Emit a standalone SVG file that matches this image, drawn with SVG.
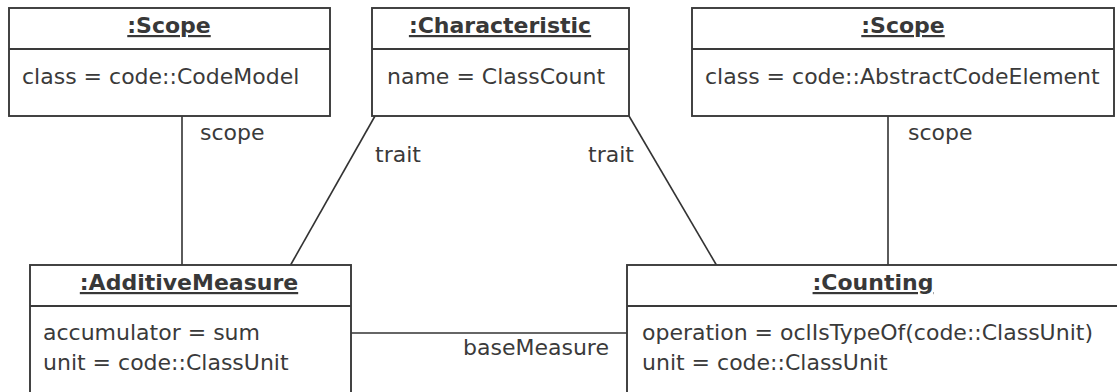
<svg xmlns="http://www.w3.org/2000/svg" width="1117" height="392" viewBox="0 0 1117 392">
  <style>
    .box { fill: #ffffff; stroke: #3a3a3a; stroke-width: 1.9; }
    .sep { stroke: #3a3a3a; stroke-width: 1.9; }
    .edge { stroke: #333333; stroke-width: 1.6; fill: none; }
    .title { font-family: "DejaVu Sans", "Liberation Sans", sans-serif; font-size: 22px; font-weight: bold; fill: #383838; text-anchor: middle; text-decoration: underline; }
    .attr { font-family: "DejaVu Sans", "Liberation Sans", sans-serif; font-size: 22px; fill: #3a3a3a; }
    .label { font-family: "DejaVu Sans", "Liberation Sans", sans-serif; font-size: 22px; fill: #3a3a3a; }
  </style>
  <rect width="1117" height="392" fill="#ffffff"/>

  <!-- links between the objects -->
  <g id="connectors">
    <line class="edge" x1="182" y1="116" x2="182" y2="265"/>
    <text class="label" x="200" y="140">scope</text>
    <line class="edge" x1="888" y1="116" x2="888" y2="265"/>
    <text class="label" x="908" y="140">scope</text>
    <line class="edge" x1="375" y1="116" x2="290" y2="266"/>
    <text class="label" x="375" y="162">trait</text>
    <line class="edge" x1="629" y1="116" x2="717" y2="266"/>
    <text class="label" x="588" y="162">trait</text>
    <line class="edge" x1="351" y1="333" x2="627" y2="333"/>
    <text class="label" x="463" y="355">baseMeasure</text>
  </g>

  <!-- object: code model scope -->
  <g id="scope-codemodel">
    <rect class="box" x="9" y="8" width="321" height="108"/>
    <line class="sep" x1="9" y1="49" x2="330" y2="49"/>
    <text class="title" x="169" y="33">:Scope</text>
    <text class="attr" x="22" y="84">class = code::CodeModel</text>
  </g>

  <!-- object: characteristic -->
  <g id="characteristic">
    <rect class="box" x="372" y="8" width="257" height="108"/>
    <line class="sep" x1="372" y1="49" x2="629" y2="49"/>
    <text class="title" x="500" y="33">:Characteristic</text>
    <text class="attr" x="387" y="84">name = ClassCount</text>
  </g>

  <!-- object: abstract code element scope -->
  <g id="scope-element">
    <rect class="box" x="692" y="8" width="422" height="108"/>
    <line class="sep" x1="692" y1="49" x2="1114" y2="49"/>
    <text class="title" x="903" y="33">:Scope</text>
    <text class="attr" x="705" y="84">class = code::AbstractCodeElement</text>
  </g>

  <!-- object: additive measure -->
  <g id="additive-measure">
    <rect class="box" x="30" y="265" width="321" height="140"/>
    <line class="sep" x1="30" y1="306" x2="351" y2="306"/>
    <text class="title" x="189" y="290">:AdditiveMeasure</text>
    <text class="attr" x="43" y="340">accumulator = sum</text>
    <text class="attr" x="43" y="370">unit = code::ClassUnit</text>
  </g>

  <!-- object: counting -->
  <g id="counting">
    <rect class="box" x="627" y="265" width="500" height="140"/>
    <line class="sep" x1="627" y1="306" x2="1127" y2="306"/>
    <text class="title" x="873" y="290">:Counting</text>
    <text class="attr" x="642" y="340">operation = oclIsTypeOf(code::ClassUnit)</text>
    <text class="attr" x="642" y="370">unit = code::ClassUnit</text>
  </g>
</svg>
